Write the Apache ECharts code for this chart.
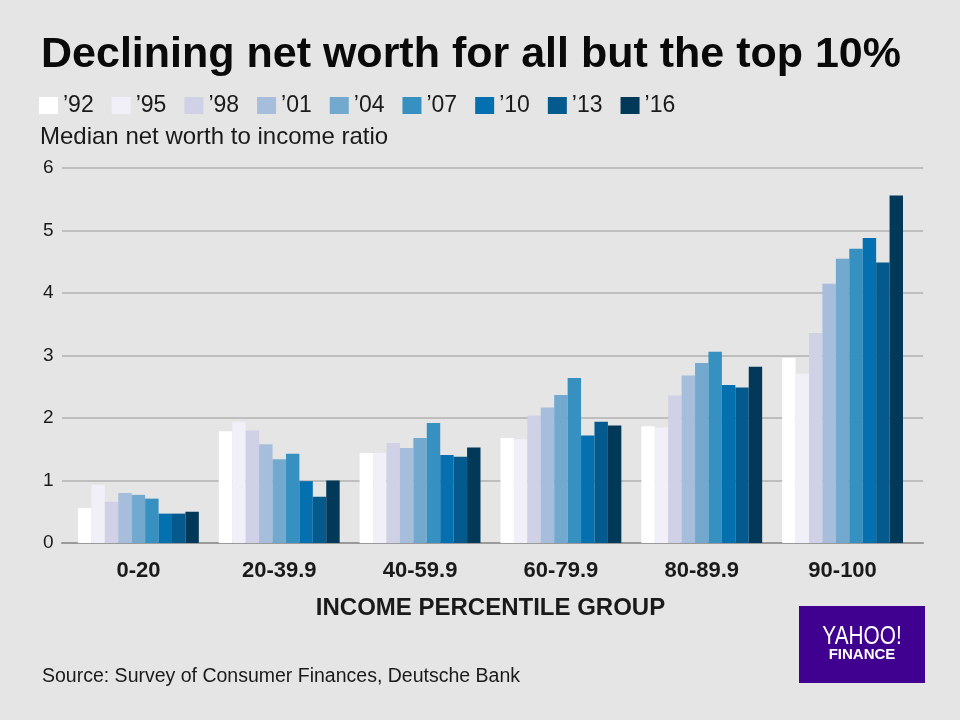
<!DOCTYPE html>
<html>
<head>
<meta charset="utf-8">
<script src="https://cdn.jsdelivr.net/npm/echarts@6/dist/echarts.min.js"></script>
<style>
  html, body { margin: 0; padding: 0; background: #e5e5e5; }
  #chart { width: 960px; height: 720px; }
</style>
</head>
<body>
<div id="chart"></div>
<script>
const categories = ['0-20', '20-39.9', '40-59.9', '60-79.9', '80-89.9', '90-100'];
const years = ['\u201992', '\u201995', '\u201998', '\u201901', '\u201904', '\u201907', '\u201910', '\u201913', '\u201916'];
const y92 = [0.56, 1.79, 1.44, 1.68, 1.87, 2.96];
const y95 = [0.93, 1.94, 1.44, 1.66, 1.85, 2.71];
const y98 = [0.66, 1.80, 1.60, 2.04, 2.36, 3.36];
const y01 = [0.80, 1.58, 1.52, 2.17, 2.68, 4.15];
const y04 = [0.77, 1.34, 1.68, 2.37, 2.88, 4.55];
const y07 = [0.71, 1.43, 1.92, 2.64, 3.06, 4.71];
const y10 = [0.47, 0.99, 1.41, 1.72, 2.53, 4.88];
const y13 = [0.47, 0.74, 1.38, 1.94, 2.49, 4.49];
const y16 = [0.50, 1.00, 1.53, 1.88, 2.82, 5.56];
const seriesValues = [y92, y95, y98, y01, y04, y07, y10, y13, y16];
const colors = ['#ffffff', '#f1eff7', '#d0d1e6', '#a6bddb', '#74a9cf', '#3690c0', '#0570b0', '#045a8d', '#023858'];
const yTicks = [0, 1, 2, 3, 4, 5, 6];

const chart = echarts.init(document.getElementById('chart'));
const font = 'Liberation Sans, Arial, sans-serif';
const yMin = yTicks[0], yMax = yTicks[yTicks.length - 1];
chart.setOption({
  backgroundColor: '#e5e5e5',
  animation: false,
  textStyle: { fontFamily: font },
  title: {
    text: 'Declining net worth for all but the top 10%',
    left: 36, top: 29,
    textStyle: { fontFamily: font, fontSize: 43, fontWeight: 'bold', color: '#0a0a0a' }
  },
  legend: {
    data: years,
    left: 34, top: 89,
    itemWidth: 19, itemHeight: 17,
    itemGap: 18,
    icon: 'rect',
    textStyle: { fontFamily: font, fontSize: 23, color: '#1a1a1a' }
  },
  grid: [
    { left: 62, right: 37, top: 168, bottom: 177 },
    { left: 68, right: 47, top: 168, bottom: 177 }
  ],
  xAxis: [
    {
      gridIndex: 0, type: 'value', min: 0, max: 1,
      axisLine: { show: true, onZero: false, lineStyle: { color: '#9a9a9a', width: 2 } },
      axisTick: { show: false }, axisLabel: { show: false }, splitLine: { show: false }
    },
    {
      gridIndex: 1,
      type: 'category',
      data: categories,
      name: 'INCOME PERCENTILE GROUP',
      nameLocation: 'middle',
      nameGap: 53,
      nameTextStyle: { fontFamily: font, fontSize: 24, fontWeight: 'bold', color: '#1a1a1a' },
      axisLine: { show: false },
      axisTick: { show: false },
      axisLabel: { fontFamily: font, fontSize: 22, fontWeight: 'bold', color: '#1a1a1a', margin: 17 }
    }
  ],
  yAxis: [
    {
      gridIndex: 0, type: 'value',
      min: yMin, max: yMax, interval: 1,
      axisLine: { show: false },
      axisTick: { show: false },
      splitLine: { lineStyle: { color: '#b0b0b0', width: 1.5 } },
      axisLabel: { fontFamily: font, fontSize: 19, color: '#1a1a1a', align: 'left', margin: 19 }
    },
    {
      gridIndex: 1, type: 'value',
      min: yMin, max: yMax, interval: 1,
      show: false
    }
  ],
  series: seriesValues.map((vals, i) => ({
    name: years[i],
    type: 'bar',
    xAxisIndex: 1, yAxisIndex: 1,
    data: vals,
    barGap: '0%',
    barCategoryGap: '14.2%',
    itemStyle: { color: colors[i] }
  })),
  graphic: [
    { type: 'text', left: 40, top: 125,
      style: { text: 'Median net worth to income ratio', font: '24px ' + font, fill: '#1a1a1a' } },
    { type: 'text', left: 42, top: 667,
      style: { text: 'Source: Survey of Consumer Finances, Deutsche Bank', font: '19.5px ' + font, fill: '#1a1a1a' } },
    { type: 'rect', shape: { x: 799, y: 606, width: 126, height: 77 }, style: { fill: '#400090' } },
    { type: 'text', x: 862, y: 637, scaleX: 0.8,
      style: { text: 'YAHOO!', font: '26px ' + font, fill: '#fff', align: 'center', verticalAlign: 'middle' } },
    { type: 'text', x: 862, y: 655,
      style: { text: 'FINANCE', font: 'bold 15px ' + font, fill: '#fff', align: 'center', verticalAlign: 'middle' } }
  ]
});
</script>
</body>
</html>
